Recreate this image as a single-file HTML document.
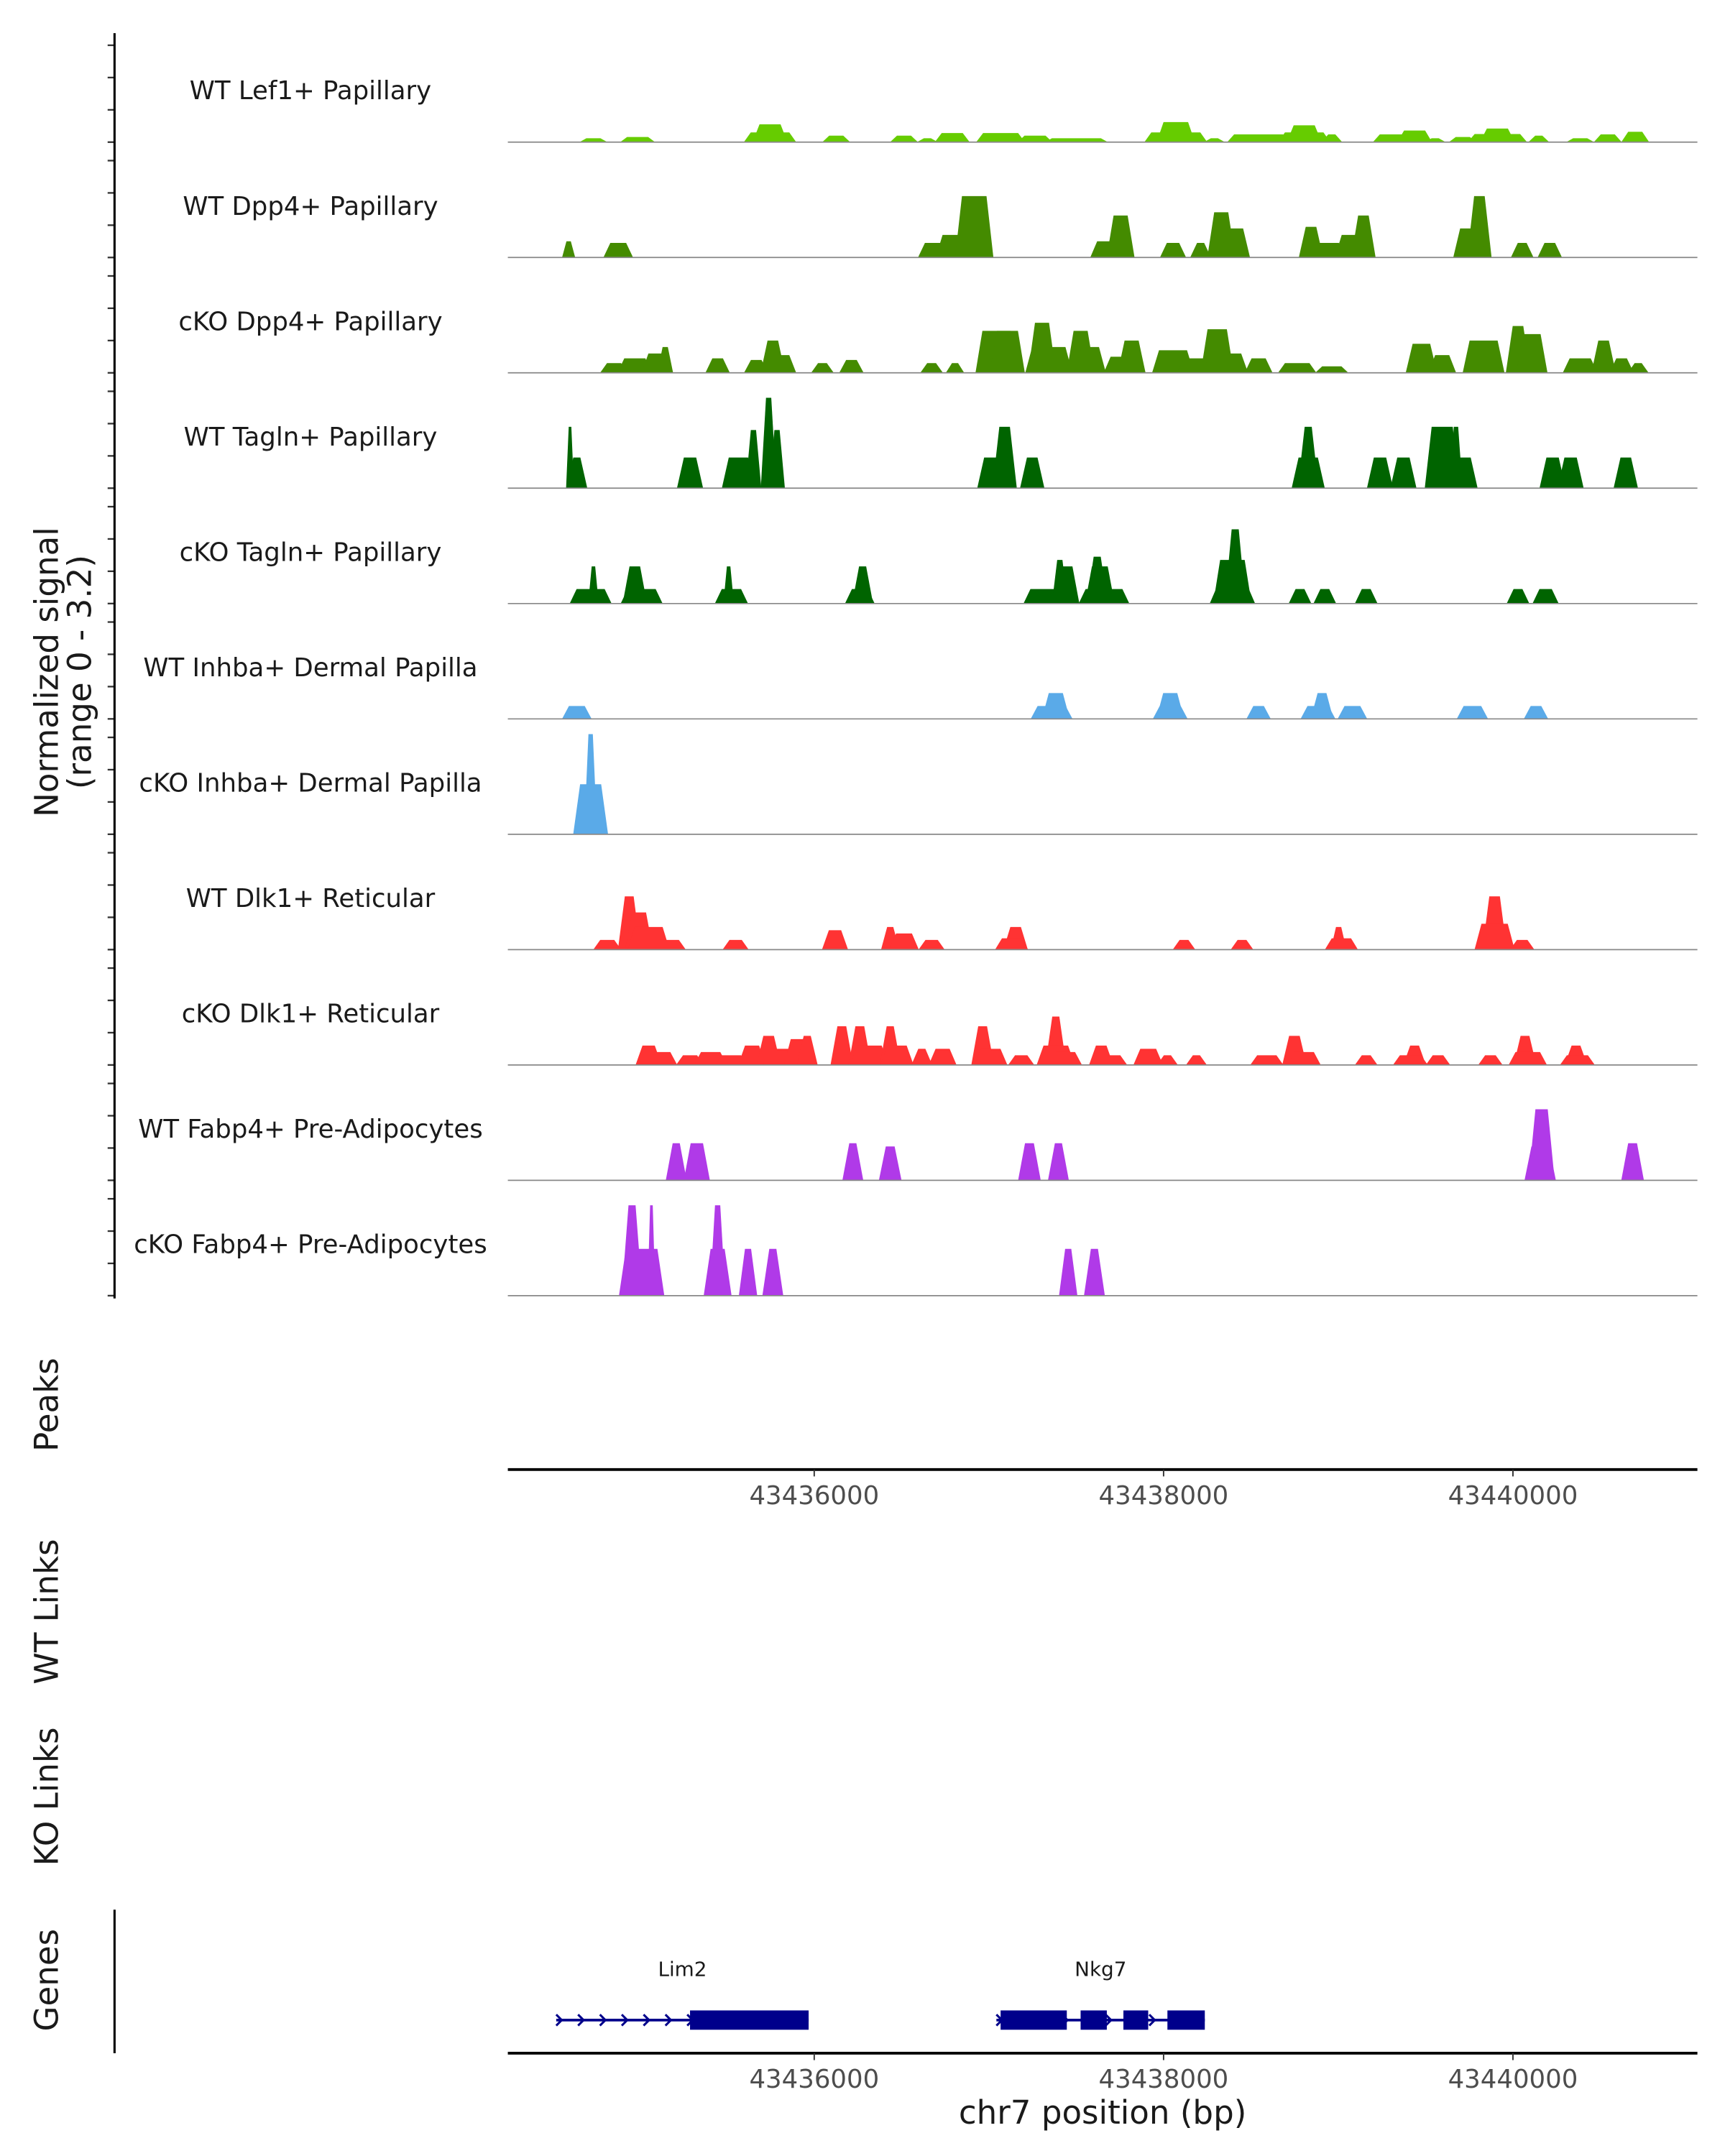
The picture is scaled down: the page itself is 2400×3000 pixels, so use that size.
<!DOCTYPE html>
<html><head><meta charset="utf-8"><style>
html,body{margin:0;padding:0;background:#fff;}
svg{display:block;font-family:"DejaVu Sans","Liberation Sans",sans-serif;}
</style></head><body>
<svg id="chart" width="2400" height="3000" viewBox="0 0 1250 1562.5" xmlns="http://www.w3.org/2000/svg">
<g id="tracks"></g>
<g id="axes"></g>
</svg>
<script>
const regionStart = 43434246;
const regionEnd = 43441056;
const trackNames = ["WT Lef1+ Papillary","WT Dpp4+ Papillary","cKO Dpp4+ Papillary","WT Tagln+ Papillary","cKO Tagln+ Papillary","WT Inhba+ Dermal Papilla","cKO Inhba+ Dermal Papilla","WT Dlk1+ Reticular","cKO Dlk1+ Reticular","WT Fabp4+ Pre-Adipocytes","cKO Fabp4+ Pre-Adipocytes"];
const trackColors = ["#66cc00","#448b00","#448b00","#006400","#006400","#5aaae8","#5aaae8","#ff3333","#ff3333","#b03ae8","#b03ae8"];
// peaks: [offset from 43436000 bp, width bp, signal]
const peaksLef1 = [[-1264,120,0.12],[-1011,160,0.16],[-253,160,0.55],[-253,260,0.3],[126,120,0.2],[514,120,0.2],[648,80,0.12],[790,160,0.28],[1067,240,0.28],[1264,160,0.2],[1501,320,0.12],[2070,180,0.62],[2070,320,0.3],[2291,80,0.12],[2544,320,0.24],[2805,160,0.52],[2805,260,0.3],[2963,80,0.24],[3318,200,0.24],[3437,160,0.36],[3555,80,0.12],[3713,120,0.16],[3911,160,0.42],[3911,300,0.25],[4148,80,0.2],[4385,120,0.12],[4543,120,0.24],[4700,120,0.32]];
const peaksWtDpp4 = [[-1406,50,0.5],[-1122,130,0.45],[679,130,0.45],[790,150,0.7],[916,180,1.9],[1754,120,1.3],[1700,200,0.5],[2054,110,0.45],[2330,120,1.4],[2410,130,0.9],[2212,80,0.45],[2844,100,0.95],[2923,200,0.45],[3144,100,1.3],[3080,160,0.7],[3808,100,1.9],[3753,150,0.9],[4053,90,0.45],[4211,100,0.45]];
const peaksKoDpp4 = [[-1146,120,0.3],[-1027,160,0.45],[-909,120,0.6],[-853,60,0.8],[-553,100,0.45],[-332,100,0.4],[-237,100,1.0],[-198,150,0.55],[47,90,0.3],[213,100,0.4],[672,90,0.3],[806,70,0.3],[1043,200,1.3],[1106,160,1.3],[1304,120,1.55],[1343,230,0.8],[1525,120,1.3],[1580,140,0.8],[1817,120,1.0],[1777,200,0.5],[2054,200,0.7],[2172,150,0.45],[2307,150,1.35],[2354,220,0.6],[2544,120,0.45],[2765,180,0.3],[2963,150,0.2],[3476,140,0.9],[3595,120,0.55],[3832,200,1.0],[3871,100,0.7],[4029,100,1.45],[4108,140,1.2],[4385,160,0.45],[4519,100,1.0],[4622,100,0.45],[4717,80,0.3]];
const peaksWtTagln = [[-1398,30,1.9],[-1359,80,0.95],[-711,110,0.95],[-434,150,0.95],[-348,60,1.8],[-261,60,2.8],[-213,60,1.8],[1043,180,0.95],[1090,100,1.9],[1248,100,0.95],[2828,80,1.9],[2828,150,0.95],[3239,110,0.95],[3373,110,0.95],[3595,160,1.9],[3713,130,0.95],[3674,50,1.9],[4227,110,0.95],[4330,110,0.95],[4646,100,0.95]];
const peaksKoTagln = [[-1280,200,0.45],[-1264,40,1.15],[-1027,100,1.15],[-988,200,0.45],[-490,40,1.15],[-474,150,0.45],[277,80,1.15],[261,130,0.45],[1343,250,0.45],[1406,60,1.35],[1438,120,1.15],[1620,80,1.45],[1635,130,1.15],[1659,250,0.45],[2410,80,2.3],[2394,180,1.35],[2394,220,0.5],[2781,90,0.45],[2923,90,0.45],[3160,90,0.45],[4029,90,0.45],[4187,110,0.45]];
const peaksWtInhba = [[-1359,130,0.4],[1383,120,0.8],[1359,200,0.4],[2038,120,0.8],[2038,160,0.4],[2544,100,0.4],[2907,90,0.8],[2884,160,0.4],[3081,130,0.4],[3768,140,0.4],[4132,100,0.4]];
const peaksKoInhba = [[-1280,160,1.55],[-1280,50,3.1]];
const peaksWtDlk1 = [[-1185,120,0.3],[-1059,90,1.65],[-1003,120,1.15],[-948,200,0.7],[-830,150,0.3],[-450,110,0.3],[119,110,0.6],[435,70,0.7],[514,130,0.5],[672,110,0.3],[1153,100,0.7],[1130,150,0.35],[2117,90,0.3],[2449,90,0.3],[3002,60,0.7],[3018,150,0.35],[3895,100,1.65],[3895,190,0.8],[4053,100,0.3]];
const peaksKoDlk1 = [[-948,110,0.6],[-869,130,0.4],[-711,120,0.3],[-593,150,0.4],[-474,150,0.3],[-356,120,0.6],[-261,100,0.9],[-198,150,0.5],[-79,150,0.8],[-40,80,0.9],[158,90,1.2],[261,90,1.2],[316,180,0.6],[435,80,1.2],[474,150,0.6],[616,80,0.5],[735,120,0.5],[964,90,1.2],[1011,150,0.5],[1185,110,0.3],[1383,80,1.5],[1383,180,0.6],[1438,150,0.4],[1643,100,0.6],[1722,100,0.3],[1912,130,0.5],[2022,80,0.3],[2188,80,0.3],[2591,150,0.3],[2749,100,0.9],[2805,150,0.4],[3160,90,0.3],[3437,90,0.6],[3413,160,0.3],[3571,100,0.3],[3871,100,0.3],[4069,90,0.9],[4085,180,0.4],[4361,90,0.6],[4369,160,0.3]];
const peaksWtFabp4 = [[-790,80,1.15],[-672,110,1.15],[221,80,1.15],[435,90,1.05],[1232,90,1.15],[1398,80,1.15],[4164,110,2.2],[4156,140,1.05],[4685,90,1.15]];
const peaksKoFabp4 = [[-1043,80,2.8],[-988,220,1.45],[-932,30,2.8],[-553,60,2.8],[-553,120,1.45],[-379,70,1.45],[-237,80,1.45],[1454,70,1.45],[1604,80,1.45]];
const allPeaks = [peaksLef1,peaksWtDpp4,peaksKoDpp4,peaksWtTagln,peaksKoTagln,peaksWtInhba,peaksKoInhba,peaksWtDlk1,peaksKoDlk1,peaksWtFabp4,peaksKoFabp4];
const xTicks = [43436000,43438000,43440000];
const yTickValues = [0,1,2,3];
const sideLabels = ["Peaks","WT Links","KO Links","Genes"];
const geneNames = ["Lim2","Nkg7"];
const geneSpans = [[43434523,43435968],[43437043,43438236]];
const geneExons = [[[43435289,43435968]],[[43437067,43437446],[43437525,43437675],[43437770,43437912],[43438022,43438236]]];

const NS="http://www.w3.org/2000/svg";
const X0=368, X1=1230, PX_PER_UNIT=23.4;
function xs(bp){return X0+(bp-regionStart)/(regionEnd-regionStart)*(X1-X0);}
function mk(tag,attrs,parent){const e=document.createElementNS(NS,tag);for(const k in attrs)e.setAttribute(k,attrs[k]);parent.appendChild(e);return e;}
const tracks=document.getElementById('tracks'), axes=document.getElementById('axes');
const baselines=[103,186.6,270.2,353.8,437.4,521,604.6,688.2,771.8,855.4,939];
const la=mk('line',{x1:83,y1:24,x2:83,y2:941,stroke:'#000','stroke-width':1.6},axes);


baselines.forEach((b,i)=>{
  const g=mk('g',{},tracks);
  
  
  yTickValues.forEach(v=>{
    const t=mk('line',{x1:78,x2:83,y1:b-v*PX_PER_UNIT,y2:b-v*PX_PER_UNIT,stroke:'#333','stroke-width':1.2},g);
    
    
  });
  const lab=mk('text',{x:225,y:b-31,'text-anchor':'middle','font-size':18.5,fill:'#1a1a1a'},g);
  lab.textContent=trackNames[i];
  
  
  allPeaks[i].forEach(p=>{
    const c=43436000+p[0], w=p[1], h=p[2]*PX_PER_UNIT;
    const a=xs(c-w/2), d=xs(c+w/2), s=Math.min(2.5,(d-a)/4);
    const poly=mk('polygon',{points:`${a-s},${b} ${a+s},${b-h} ${d-s},${b-h} ${d+s},${b}`,fill:trackColors[i]},g);
    
    
  });
  const bl=mk('line',{x1:X0,x2:X1,y1:b,y2:b,stroke:'#888','stroke-width':0.9},g);
  
  
});
const yt=mk('text',{transform:'translate(42,487) rotate(-90)','text-anchor':'middle','font-size':23.5,fill:'#1a1a1a'},axes);
yt.textContent='Normalized signal';


const yt2=mk('text',{transform:'translate(66,487) rotate(-90)','text-anchor':'middle','font-size':23.5,fill:'#1a1a1a'},axes);
yt2.textContent='(range 0 - 3.2)';


const sideY=[1018,1168,1302,1435];
sideLabels.forEach((s,i)=>{
  const t=mk('text',{transform:`translate(42,${sideY[i]}) rotate(-90)`,'text-anchor':'middle','font-size':23.5,fill:'#1a1a1a'},axes);
  t.textContent=s;
  
  
});
[1065,1488].forEach((y,k)=>{
  const l=mk('line',{x1:X0,x2:X1,y1:y,y2:y,stroke:'#000','stroke-width':2},axes);
  
  
  xTicks.forEach(v=>{
    const tk=mk('line',{x1:xs(v),x2:xs(v),y1:y,y2:y+5,stroke:'#333','stroke-width':1},axes);
    
    
    const tl=mk('text',{x:xs(v),y:y+25,'text-anchor':'middle','font-size':18.5,fill:'#4d4d4d'},axes);
    tl.textContent=String(v);
    
    
  });
});
const xt=mk('text',{x:799,y:1539,'text-anchor':'middle','font-size':23.5,fill:'#1a1a1a'},axes);
xt.textContent='chr7 position (bp)';


const gl=mk('line',{x1:83,x2:83,y1:1384,y2:1488,stroke:'#000','stroke-width':1.6},axes);


const GY=1464;
geneNames.forEach((n,i)=>{
  const g=mk('g',{},axes);
  
  
  const [s,e]=geneSpans[i];
  mk('line',{x1:xs(s),x2:xs(e),y1:GY,y2:GY,stroke:'#00008b','stroke-width':2},g);
  for(let bp=s; bp<e-60; bp+=125){
    const x=xs(bp);
    mk('polyline',{points:`${x},${GY-4} ${x+4},${GY} ${x},${GY+4}`,fill:'none',stroke:'#00008b','stroke-width':1.6},g);
  }
  geneExons[i].forEach(ex=>{
    mk('rect',{x:xs(ex[0]),y:GY-7,width:xs(ex[1])-xs(ex[0]),height:14,fill:'#00008b'},g);
  });
  const t=mk('text',{x:xs((s+e)/2)+(i==0?0:0),y:1432,'text-anchor':'middle','font-size':14.5,fill:'#1a1a1a'},g);
  t.textContent=n;
});
</script>
</body></html>
